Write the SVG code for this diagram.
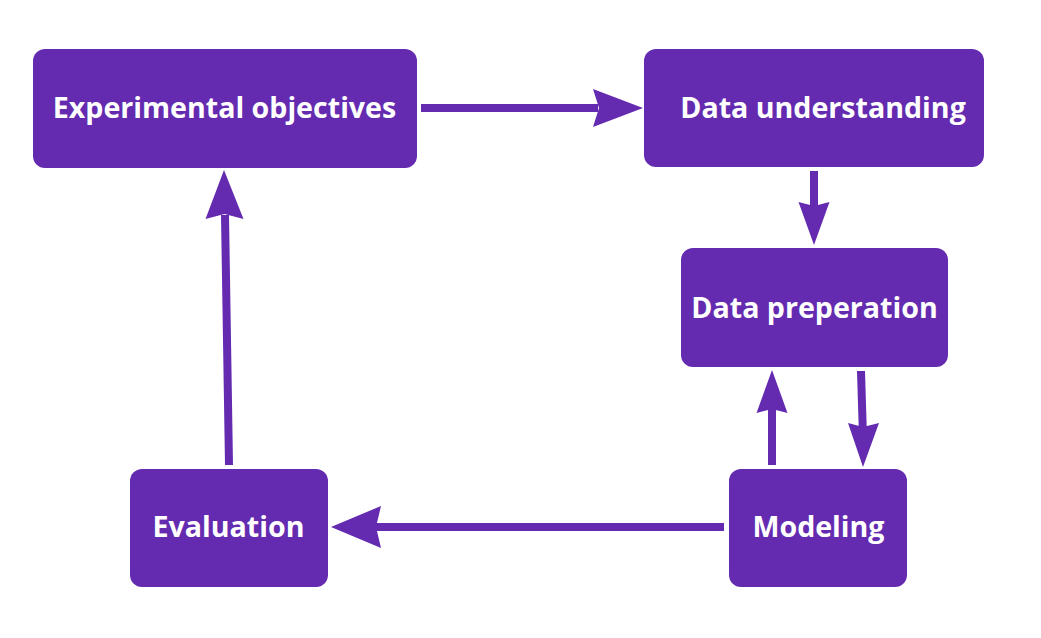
<svg xmlns="http://www.w3.org/2000/svg" width="1041" height="638" viewBox="0 0 1041 638">
<style>
.box{fill:#642bb1;}
.lbl{font-family:"Open Sans","Noto Sans",sans-serif;font-weight:bold;font-size:28.6px;fill:#ffffff;text-anchor:middle;}
.ln{stroke:#642bb1;stroke-width:8;fill:none;}
.hd{fill:#642bb1;}
</style>
<rect width="1041" height="638" fill="#ffffff"/>
<g id="node-experimental">
<rect class="box" x="33" y="49" width="384" height="119" rx="12"/>
<text class="lbl" x="224.5" y="118">Experimental objectives</text>
</g>
<g id="node-understanding">
<rect class="box" x="644" y="49" width="340" height="118" rx="12"/>
<text class="lbl" x="823" y="118">Data understanding</text>
</g>
<g id="node-preparation">
<rect class="box" x="681" y="248" width="267" height="119" rx="12"/>
<text class="lbl" x="814.5" y="318">Data preperation</text>
</g>
<g id="node-evaluation">
<rect class="box" x="130" y="469" width="198" height="118" rx="12"/>
<text class="lbl" x="228.5" y="537">Evaluation</text>
</g>
<g id="node-modeling">
<rect class="box" x="729" y="469" width="178" height="118" rx="12"/>
<text class="lbl" x="818.5" y="537">Modeling</text>
</g>
<g id="connectors">
<line class="ln" x1="421" y1="108" x2="598" y2="108"/>
<path class="hd" d="M643,108 L593,89 L599,108 L593,127 Z"/>
<line class="ln" x1="814" y1="171" x2="814" y2="206"/>
<path class="hd" d="M814,245 L798.5,202 L814,206 L829.5,202 Z"/>
<line class="ln" x1="772" y1="465" x2="772" y2="409"/>
<path class="hd" d="M772,370 L756.5,413 L772,409 L787.5,413 Z"/>
<line class="ln" x1="861" y1="371" x2="862.7" y2="427"/>
<path class="hd" d="M863,467 L848,423 L863,427 L879,423 Z"/>
<line class="ln" x1="724" y1="527" x2="376" y2="527"/>
<path class="hd" d="M331,527 L381,506 L376,527 L381,548 Z"/>
<line class="ln" x1="229" y1="465" x2="225" y2="215"/>
<path class="hd" d="M224,170 L205.5,219 L224.5,214 L243.5,219 Z"/>
</g>
</svg>
